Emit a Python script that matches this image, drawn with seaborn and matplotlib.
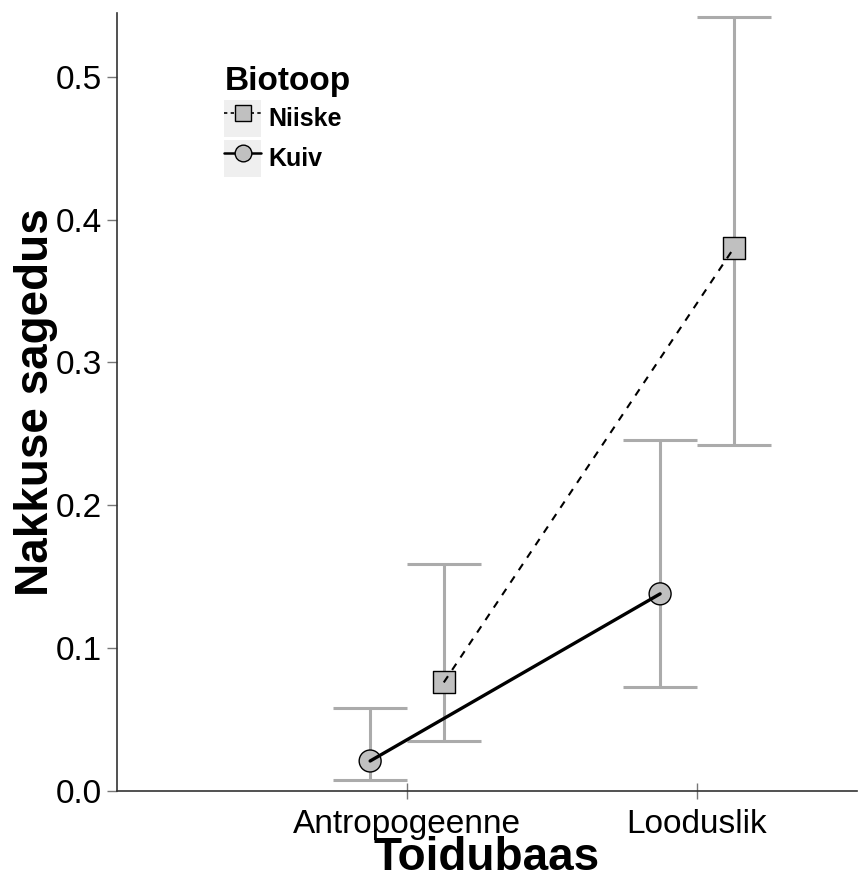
import matplotlib
matplotlib.use("Agg")
import matplotlib.pyplot as plt
import seaborn as sns
import numpy as np
import pandas as pd
from matplotlib.lines import Line2D
from matplotlib.patches import Rectangle
from matplotlib.legend_handler import HandlerTuple

# ---- data ----
categories = ["Antropogeenne", "Looduslik"]
groups = ["Kuiv", "Niiske"]
kuiv_mean = [0.021, 0.138]
kuiv_low = [0.008, 0.073]
kuiv_high = [0.058, 0.246]
niiske_mean = [0.076, 0.380]
niiske_low = [0.035, 0.242]
niiske_high = [0.159, 0.542]
y_ticks = [0.0, 0.1, 0.2, 0.3, 0.4, 0.5]
y_ticklabels = ["0.0", "0.1", "0.2", "0.3", "0.4", "0.5"]

sns.set_style("white")
plt.rcParams["font.family"] = ["Liberation Sans", "DejaVu Sans"]
plt.rcParams["text.color"] = "black"
plt.rcParams["axes.labelcolor"] = "black"

rows = []
for g, m, lo, hi in [("Kuiv", kuiv_mean, kuiv_low, kuiv_high),
                     ("Niiske", niiske_mean, niiske_low, niiske_high)]:
    for c, mv, l, h in zip(categories, m, lo, hi):
        rows.append(dict(Toidubaas=c, Biotoop=g, mean=mv, low=l, high=h))
df = pd.DataFrame(rows)
dodge = {"Kuiv": -0.127, "Niiske": 0.127}
df["x"] = df["Toidubaas"].map({c: i for i, c in enumerate(categories)}) + df["Biotoop"].map(dodge)

fig = plt.figure(figsize=(8.61, 8.84), dpi=100)
ax = fig.add_axes([117/861, 1 - 791/884, 740/861, (791 - 13)/884])

err_col = "#ABABAB"
# error bars
for _, r in df.iterrows():
    ax.vlines(r["x"], r["low"], r["high"], color=err_col, lw=2.2, zorder=1)
    ax.hlines([r["low"], r["high"]], r["x"] - 0.127, r["x"] + 0.127, color=err_col, lw=2.2, zorder=1)

# points
sns.scatterplot(data=df, x="x", y="mean", style="Biotoop",
                markers={"Kuiv": "o", "Niiske": "s"}, s=250, color="#C0C0C0",
                edgecolor="black", linewidth=1.0, legend=False, ax=ax, zorder=3)

# lines
sns.lineplot(data=df[df["Biotoop"] == "Kuiv"], x="x", y="mean", color="black",
             lw=2.4, legend=False, ax=ax, zorder=4)
sns.lineplot(data=df[df["Biotoop"] == "Niiske"], x="x", y="mean", color="black",
             lw=1.5, dashes=(3.6, 3.6), legend=False, ax=ax, zorder=4)

ax.set_xlim(-1.0, 1.552)
ax.set_ylim(0, 0.5446)
ax.set_xticks(range(len(categories)))
ax.set_xticklabels(categories, fontsize=24, color="black")
ax.set_yticks(y_ticks)
ax.set_yticklabels(y_ticklabels, fontsize=24, color="black")
ax.tick_params(axis="y", left=True, direction="out", length=7, width=1, color="#777777", pad=4)
ax.tick_params(axis="x", bottom=True, direction="inout", length=12, width=1, color="#777777", pad=7)
ax.set_xlabel("Toidubaas", fontsize=33, fontweight="bold", labelpad=-3, color="black")
ax.set_ylabel("Nakkuse sagedus", fontsize=33, fontweight="bold", labelpad=-2, color="black")

for s in ["top", "right"]:
    ax.spines[s].set_visible(False)
for s in ["left", "bottom"]:
    ax.spines[s].set_color("#333333")
    ax.spines[s].set_linewidth(1.2)

# legend
bg = "#EFEFEF"
h_niiske = (Rectangle((0, 0), 1, 1, facecolor=bg, edgecolor="none"),
            Line2D([], [], color="black", lw=1.2, ls=(0, (2, 2)), marker="s",
                   markersize=12, markerfacecolor="#C0C0C0", markeredgecolor="black"))
h_kuiv = (Rectangle((0, 0), 1, 1, facecolor=bg, edgecolor="none"),
          Line2D([], [], color="black", lw=1.8, marker="o",
                 markersize=12, markerfacecolor="#C0C0C0", markeredgecolor="black"))
leg = ax.legend([h_niiske, h_kuiv], ["Niiske", "Kuiv"], title="Biotoop",
                handler_map={tuple: HandlerTuple(ndivide=1)},
                loc="upper left", bbox_to_anchor=(0.145, 0.932), frameon=False,
                fontsize=18, title_fontsize=24, handlelength=1.48, handleheight=1.9,
                handletextpad=0.3, labelspacing=0.12, alignment="left", borderaxespad=0,
                borderpad=0)
leg.get_title().set_fontweight("bold")
for t in leg.get_texts():
    t.set_fontweight("bold")

fig.savefig("out.png", dpi=100)
